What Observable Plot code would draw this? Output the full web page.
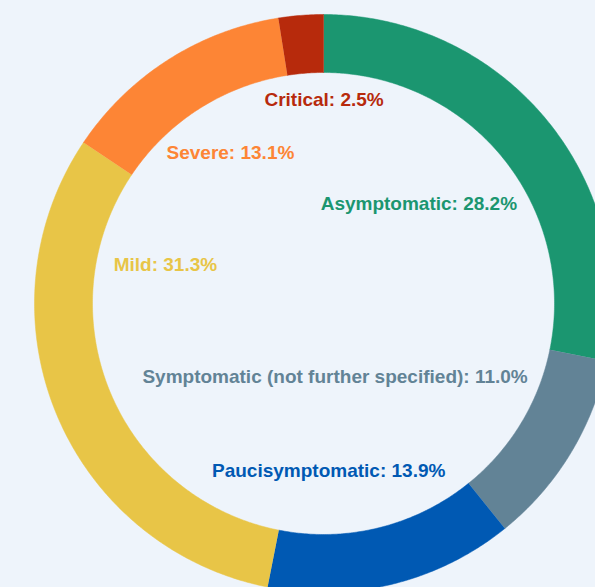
<!DOCTYPE html>
<html>
<head>
<meta charset="utf-8">
<script src="https://cdn.jsdelivr.net/npm/d3@7"></script>
<script src="https://cdn.jsdelivr.net/npm/@observablehq/plot@0.6"></script>
<style>
  html, body { margin: 0; padding: 0; background: #eef4fb; }
  #chart svg { display: block; }
</style>
</head>
<body>
<div id="chart"></div>
<script>
// ---- data ----
const categories = ["Asymptomatic", "Symptomatic (not further specified)", "Paucisymptomatic", "Mild", "Severe", "Critical"];
const shares = [28.2, 11.0, 13.9, 31.3, 13.1, 2.5];
const colors = ["#1b9670", "#628396", "#0059b3", "#e8c547", "#fd8535", "#b72a0c"];
// label anchor positions (in units of the outer radius, relative to the ring centre)
const labelX = [0.330, 0.040, 0.018, -0.547, -0.322, 0.002];
const labelY = [0.343, -0.253, -0.578, 0.135, 0.522, 0.706];

// ---- geometry (unit outer radius) ----
const W = 595, H = 587;
const cxPx = 323, cyPx = 303, Rpx = 289;
const rInner = 231 / 289;
const total = d3.sum(shares);

const ring = [];
let acc = 0;
categories.forEach((cat, i) => {
  const a0 = acc / total * 2 * Math.PI;
  acc += shares[i];
  const a1 = acc / total * 2 * Math.PI;
  const n = Math.max(8, Math.ceil((a1 - a0) / (Math.PI / 360)));
  for (let k = 0; k <= n; k++) {
    const a = a0 + (a1 - a0) * k / n;
    ring.push({cat, x: Math.sin(a), y: Math.cos(a)});
  }
  for (let k = n; k >= 0; k--) {
    const a = a0 + (a1 - a0) * k / n;
    ring.push({cat, x: rInner * Math.sin(a), y: rInner * Math.cos(a)});
  }
});

const labels = categories.map((cat, i) => ({
  cat,
  text: `${cat}: ${shares[i].toFixed(1)}%`,
  x: labelX[i],
  y: labelY[i]
}));

const chart = Plot.plot({
  width: W,
  height: H,
  margin: 0,
  style: {background: "#eef4fb", overflow: "hidden"},
  x: {domain: [-cxPx / Rpx, (W - cxPx) / Rpx], axis: null},
  y: {domain: [-(H - cyPx) / Rpx, cyPx / Rpx], axis: null},
  color: {domain: categories, range: colors},
  marks: [
    Plot.line(ring, {x: "x", y: "y", z: "cat", fill: "cat", stroke: "cat", strokeWidth: 0.5, curve: "linear"}),
    Plot.text(labels, {
      x: "x", y: "y", text: "text", fill: "cat",
      fontSize: 19, fontWeight: "bold",
      fontFamily: "'Liberation Sans', Arial, sans-serif",
      textAnchor: "middle", lineAnchor: "middle"
    })
  ]
});
document.getElementById("chart").append(chart);
</script>
</body>
</html>
